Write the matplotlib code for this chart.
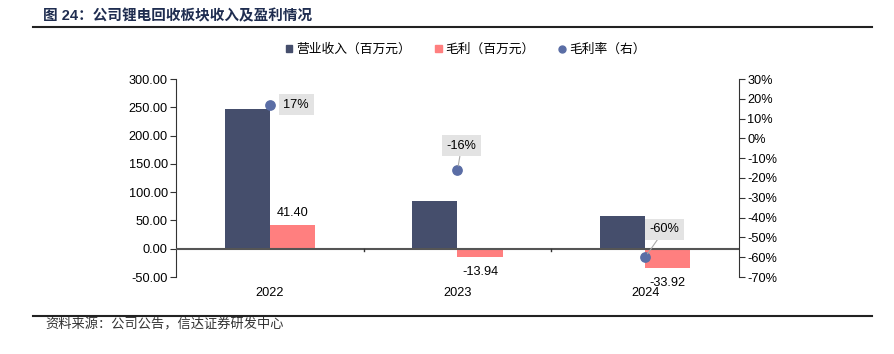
import matplotlib
matplotlib.use("Agg")
import matplotlib.pyplot as plt
from matplotlib.lines import Line2D
from matplotlib.patches import Patch
import matplotlib.transforms as mtransforms
import numpy as np

plt.rcParams['font.family'] = ['Liberation Sans', 'Noto Sans CJK SC', 'DejaVu Sans']

categories = ['2022', '2023', '2024']
revenue = [247.0, 85.0, 57.0]
gross_profit = [41.40, -13.94, -33.92]
gross_margin = [0.17, -0.16, -0.60]
margin_labels = ['17%', '-16%', '-60%']
left_ticks = [-50, 0, 50, 100, 150, 200, 250, 300]
right_ticks = [-0.7, -0.6, -0.5, -0.4, -0.3, -0.2, -0.1, 0, 0.1, 0.2, 0.3]

title = '图 24：公司锂电回收板块收入及盈利情况'
source = '资料来源：公司公告，信达证券研发中心'
legend_labels = ['营业收入（百万元）', '毛利（百万元）', '毛利率（右）']

c_rev = '#454E6C'
c_gp = '#FF7F7F'
c_dot = '#5A6DA5'
c_title = '#1F2D50'

fig = plt.figure(figsize=(8.94, 3.54), dpi=100)
ax = fig.add_axes([176/894, 1-277/354, (739-176)/894, (277-79)/354])
ax2 = ax.twinx()

x = np.arange(len(categories))
w = 0.24
ax.bar(x - w/2, revenue, w, color=c_rev, zorder=2)
ax.bar(x + w/2, gross_profit, w, color=c_gp, zorder=2)
ax.set_xlim(-0.5, len(categories) - 0.5)
ax.set_ylim(-50, 300)
ax.set_yticks(left_ticks)
ax.set_yticklabels([f'{v:.2f}' for v in left_ticks], fontsize=9.2)
ax.axhline(0, color='#555555', lw=1.5, zorder=3)

# zero-line ticks at category boundaries
for b in np.arange(0.5, len(categories) - 0.5, 1.0):
    ax.plot([b, b], [0, -4], color='#333333', lw=1, zorder=3, clip_on=False)

for s in ['top', 'bottom']:
    ax.spines[s].set_visible(False)
    ax2.spines[s].set_visible(False)
ax.spines['left'].set_color('#333333')
ax2.spines['right'].set_color('#333333')
ax2.spines['left'].set_visible(False)
ax.spines['right'].set_visible(False)
ax.set_xticks([])
ax.tick_params(axis='y', length=4, color='#333333', pad=2)

trans = mtransforms.blended_transform_factory(ax.transData, ax.transAxes)
for i, c in enumerate(categories):
    ax.text(i, -0.08, c, transform=trans, ha='center', va='center', fontsize=9.2)

# bar labels
for i, v in enumerate(gross_profit):
    if v >= 0:
        ax.annotate(f'{v:.2f}', (i + w/2, v), xytext=(0, 9), textcoords='offset points',
                    ha='center', va='center', fontsize=9.2)
    else:
        ax.annotate(f'{v:.2f}', (i + w/2, v), xytext=(0, -11), textcoords='offset points',
                    ha='center', va='center', fontsize=9.2)

ax2.set_ylim(-0.7, 0.3)
ax2.set_yticks(right_ticks)
ax2.set_yticklabels([f'{round(v*100):d}%' for v in right_ticks], fontsize=9.2)
ax2.tick_params(axis='y', length=4, color='#333333', pad=2)
ax2.scatter(x, gross_margin, s=45, color=c_dot, zorder=5)

offsets = [(19, 0), (3, 17.5), (14, 20)]
bbox = dict(boxstyle='square,pad=0.35', fc='#E3E3E3', ec='none')
for i, (v, lab) in enumerate(zip(gross_margin, margin_labels)):
    arrow = None if i == 0 else dict(arrowstyle='-', color='#AAAAAA', lw=0.8, shrinkA=0, shrinkB=3)
    ax2.annotate(lab, (i, v), xytext=offsets[i], textcoords='offset points',
                 ha='center', va='center', fontsize=9.2, bbox=bbox, arrowprops=arrow, zorder=6)

handles = [Patch(color=c_rev), Patch(color=c_gp),
           Line2D([], [], marker='o', ls='none', color=c_dot, markersize=5)]
fig.legend(handles, legend_labels, loc='center left', bbox_to_anchor=(0.307, 0.859),
           ncol=3, frameon=False, fontsize=9.2, handlelength=0.5, handleheight=0.5,
           handletextpad=0.3, columnspacing=1.9)

fig.text(43/894, 1-16/354, title, fontsize=10.5, fontweight='bold', color=c_title,
         ha='left', va='center')
fig.add_artist(Line2D([33/894, 872/894], [1-27/354, 1-27/354], color='#222222', lw=1.5))
fig.add_artist(Line2D([33/894, 872/894], [1-316/354, 1-316/354], color='#222222', lw=1.5))
fig.text(45/894, 1-325/354, source, fontsize=9.5, color='#333333', ha='left', va='center',
         style='italic')

fig.savefig('out.png', dpi=100)
